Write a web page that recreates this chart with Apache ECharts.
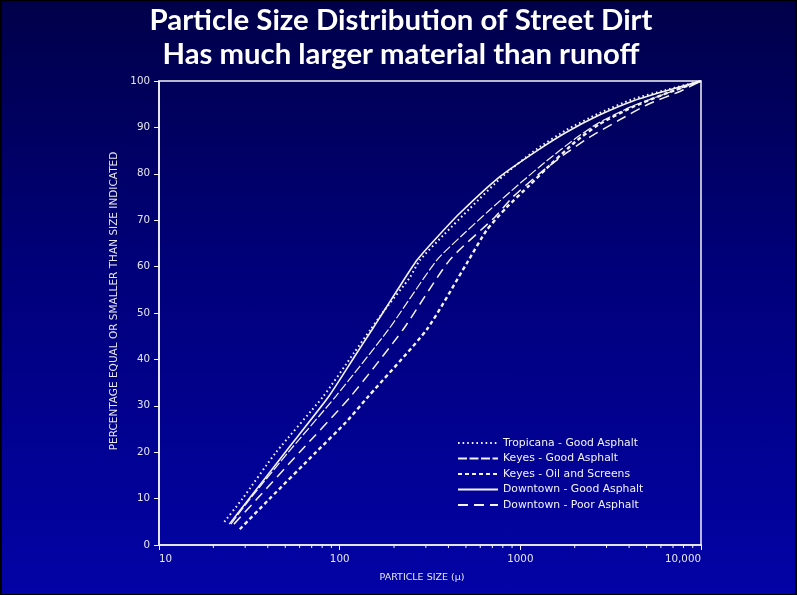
<!DOCTYPE html>
<html>
<head>
<meta charset="utf-8">
<script src="https://cdn.jsdelivr.net/npm/echarts@6/dist/echarts.min.js"></script>
<style>
html,body{margin:0;padding:0;}
#c{width:797px;height:595px;background:linear-gradient(to bottom,#00004a 0%,#00007a 45%,#0303a6 100%);box-sizing:border-box;border-left:2px solid #000;border-right:2px solid #000;border-bottom:1px solid #000;border-top:1px solid #000;}
</style>
</head>
<body>
<div id="c"></div>
<script>
// ---- data ----
const titleLines = ['Particle Size Distribution of Street Dirt', 'Has much larger material than runoff'];
const seriesNames = ['Tropicana - Good Asphalt', 'Keyes - Good Asphalt', 'Keyes - Oil and Screens', 'Downtown - Good Asphalt', 'Downtown - Poor Asphalt'];

const sizesTropicana = [23, 29, 44.5, 81, 120, 148, 177, 245, 278, 380, 525, 800, 1240, 1790, 2718, 4130, 6300, 10000];
const pctTropicana   = [5, 10, 20, 32, 41.4, 46.4, 50.6, 57.7, 61.4, 67, 72.5, 79.5, 85.4, 89.4, 93, 96, 98, 100];

const sizesKeyesGood = [25, 32, 52, 95, 186, 345, 500, 672, 1000, 1400, 2000, 2718, 4130, 6300, 10000];
const pctKeyesGood   = [4.5, 10, 20, 32, 46.4, 61.4, 67.5, 72.1, 78, 82.8, 87.5, 91, 94.5, 97.2, 100];

const sizesKeyesOil = [28, 41, 74, 108, 144, 303, 505, 650, 837, 1122, 1400, 2000, 2718, 4130, 6300, 10000];
const pctKeyesOil   = [3.4, 10, 20, 26.4, 32, 46.4, 60.7, 67.8, 72.7, 77.5, 81.2, 86.8, 90.6, 94.3, 97.2, 100];

const sizesDowntownGood = [24.5, 31.6, 50, 87, 120, 151, 173, 209, 268, 340, 462, 765, 1240, 1790, 2718, 4130, 6300, 10000];
const pctDowntownGood   = [4.5, 10, 20, 32, 40.4, 46.4, 50, 55, 61.4, 66, 71.5, 79.3, 85, 88.9, 92.6, 95.6, 97.8, 100];

const sizesDowntownPoor = [26, 35, 60, 115, 224, 406, 720, 903, 1300, 1800, 2400, 3500, 5100, 7700, 10000];
const pctDowntownPoor   = [4.5, 10, 20, 32, 46.4, 61.4, 70.6, 74.9, 80.3, 84.5, 87.8, 91.5, 95, 97.8, 100];

const yTicks = [0, 10, 20, 30, 40, 50, 60, 70, 80, 90, 100];
const xTickLabels = {10: '10', 100: '100', 1000: '1000', 10000: '10,000'};
const minorTickValues = [20,30,40,50,60,70,80,90,200,300,400,500,600,700,800,900,2000,3000,4000,5000,6000,7000,8000,9000];

// ---- helpers ----
function zip(xs, ys){ return xs.map((x, i) => [x, ys[i]]); }
function fitScale(text, font, target){
  const ctx = document.createElement('canvas').getContext('2d');
  ctx.font = font;
  return target / ctx.measureText(text).width;
}

const chart = echarts.init(document.getElementById('c'), null, {renderer: 'canvas'});
const W = '#f4f4f4';
const LBL = '#e6e6ee';
const FONT = 'DejaVu Sans';
const titleFont = 'bold 29px Lato';
const s1 = fitScale(titleLines[0], titleFont, 503);
const s2 = fitScale(titleLines[1], titleFont, 477);

function lineSeries(name, xs, ys, width, type){
  return {
    type: 'line', name: name, data: zip(xs, ys), symbol: 'none', smooth: 0.2,
    lineStyle: {color: W, width: width, type: type, cap: 'butt'},
    itemStyle: {color: W}, z: 4
  };
}

chart.setOption({
  animation: false,
  backgroundColor: 'transparent',
  grid: {left: 157, right: 94, top: 80, bottom: 49, show: true, borderColor: W, borderWidth: 1.5, backgroundColor: 'transparent'},
  legend: {
    data: seriesNames, orient: 'vertical', left: 455, top: 436.5, padding: 0, itemWidth: 40, itemHeight: 10, itemGap: 4.5,
    itemStyle: {opacity: 0},
    textStyle: {color: W, fontSize: 10.8, fontFamily: FONT}
  },
  xAxis: {
    type: 'log', logBase: 10, min: 10, max: 10000,
    name: 'PARTICLE SIZE (\u03bc)', nameLocation: 'middle', nameGap: 28,
    nameTextStyle: {color: LBL, fontSize: 9.5, fontFamily: FONT, padding: [0, 16, 0, 0]},
    axisLine: {lineStyle: {color: W, width: 1.5}},
    axisTick: {show: true, inside: false, length: 5, lineStyle: {color: W, width: 1}},
    axisLabel: {color: LBL, fontSize: 10.3, fontFamily: FONT, margin: 9,
      formatter: v => xTickLabels[Math.round(v)] || '', alignMinLabel: 'left', alignMaxLabel: 'right'},
    splitLine: {show: false}, minorTick: {show: false}
  },
  yAxis: {
    type: 'value', min: 0, max: 100, interval: 10,
    name: 'PERCENTAGE EQUAL OR SMALLER THAN SIZE INDICATED', nameLocation: 'middle', nameGap: 35, nameRotate: 90,
    nameTextStyle: {color: LBL, fontSize: 10.5, fontFamily: FONT, padding: [0, 0, 0, 24]},
    axisLine: {show: true, lineStyle: {color: W, width: 1.5}},
    axisTick: {show: true, inside: false, length: 5, lineStyle: {color: W, width: 1}},
    axisLabel: {color: LBL, fontSize: 10.3, fontFamily: FONT, margin: 9,
      formatter: v => yTicks.indexOf(v) >= 0 ? String(v) : ''},
    splitLine: {show: false}
  },
  graphic: [
    {type: 'text', x: 399, y: 20, scaleX: s1, style: {text: titleLines[0], font: titleFont, fill: '#ffffff', textAlign: 'center', textVerticalAlign: 'middle'}},
    {type: 'text', x: 399, y: 54, scaleX: s2, style: {text: titleLines[1], font: titleFont, fill: '#ffffff', textAlign: 'center', textVerticalAlign: 'middle'}}
  ],
  series: [
    lineSeries(seriesNames[0], sizesTropicana, pctTropicana, 2, [1.6, 3]),
    lineSeries(seriesNames[1], sizesKeyesGood, pctKeyesGood, 1.2, [9, 2.5]),
    lineSeries(seriesNames[2], sizesKeyesOil, pctKeyesOil, 2.4, [4, 3]),
    lineSeries(seriesNames[3], sizesDowntownGood, pctDowntownGood, 1.6, 'solid'),
    lineSeries(seriesNames[4], sizesDowntownPoor, pctDowntownPoor, 1.5, [10, 6]),
    {
      type: 'custom', name: 'minor ticks', clip: false, silent: true, z: 5,
      data: minorTickValues.map(v => [v, 0]),
      renderItem: function(params, api){
        const p = api.coord([api.value(0), 0]);
        return {type: 'line', shape: {x1: p[0], y1: p[1], x2: p[0], y2: p[1] + 3}, style: {stroke: W, lineWidth: 1}};
      }
    }
  ]
});
</script>
</body>
</html>
